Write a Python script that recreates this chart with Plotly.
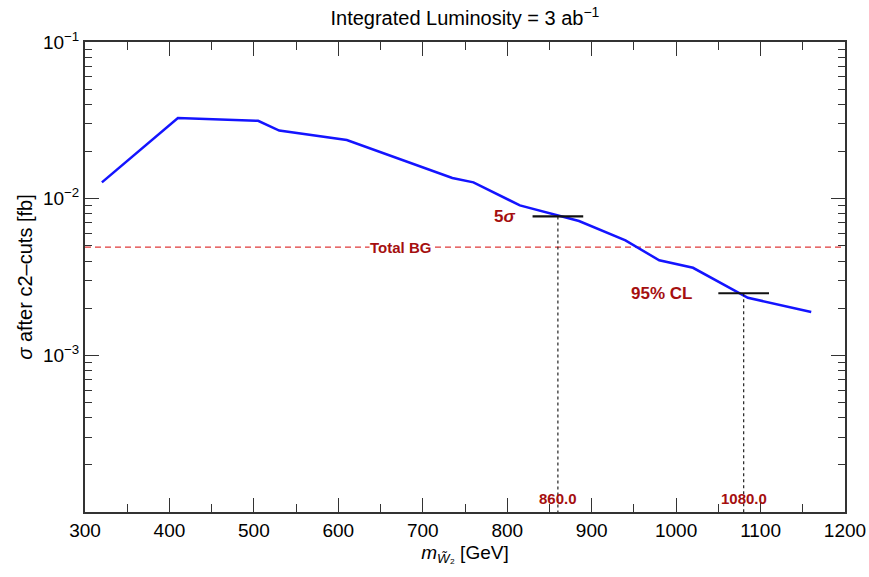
import math
import plotly.graph_objects as go

# ---- data ----
mass = [320, 410, 505, 530, 610, 735, 760, 815, 885, 940, 980, 1020, 1085, 1160]
xsec = [0.0127, 0.0327, 0.0314, 0.0272, 0.0237, 0.01355, 0.0127, 0.00906, 0.0072,
        0.00542, 0.00404, 0.00362, 0.00233, 0.00189]
bg_xsec = 0.0049
reach_mass = [860.0, 1080.0]
reach_xsec = [0.0077, 0.00249]
reach_names = ["5<i>σ</i>", "95% CL"]
bar_halfwidth = 30
y_tickvals = [1e-3, 1e-2, 1e-1]
y_ticktext = ["10<sup>−3</sup>", "10<sup>−2</sup>", "10<sup>−1</sup>"]
x_range = [300, 1200]
y_min = 1e-4

label_gap = [18, 29]   # gap (GeV) between bar end and its label

dark_red = "#a50f0f"
FONT = "Liberation Sans, Arial, sans-serif"
fig = go.Figure()

# background line
fig.add_trace(go.Scatter(x=x_range, y=[bg_xsec, bg_xsec], mode="lines",
                         line=dict(color="#e03a3a", width=1.3, dash="6px,4px"),
                         hoverinfo="skip", showlegend=False))
# signal curve
fig.add_trace(go.Scatter(x=mass, y=xsec, mode="lines",
                         line=dict(color="#1414ff", width=2.5),
                         showlegend=False))
# reach markers
for m, s in zip(reach_mass, reach_xsec):
    fig.add_trace(go.Scatter(x=[m, m], y=[s, y_min], mode="lines",
                             line=dict(color="#222222", width=1.2, dash="dot"),
                             showlegend=False, hoverinfo="skip"))
    fig.add_trace(go.Scatter(x=[m - bar_halfwidth, m + bar_halfwidth], y=[s, s], mode="lines",
                             line=dict(color="#111111", width=2.2),
                             showlegend=False, hoverinfo="skip"))

annotations = []
annotations.append(dict(x=674, y=math.log10(bg_xsec), xref="x", yref="y", text="<b>Total BG</b>",
                        showarrow=False, font=dict(size=15, color=dark_red, family=FONT),
                        bgcolor="white", borderpad=0))
for m, s, name, g in zip(reach_mass, reach_xsec, reach_names, label_gap):
    annotations.append(dict(x=m - bar_halfwidth - g, y=math.log10(s), xref="x", yref="y",
                            text="<b>" + name + "</b>",
                            xanchor="right", showarrow=False,
                            font=dict(size=17, color=dark_red, family=FONT)))
    annotations.append(dict(x=m, y=0, xref="x", yref="paper", yshift=3, yanchor="bottom",
                            text="<b>%.1f</b>" % m, showarrow=False,
                            font=dict(size=15, color=dark_red, family=FONT)))

axis_font = dict(family=FONT, size=19, color="black")
fig.update_layout(
    width=869, height=577,
    margin=dict(l=85, r=24, t=42, b=65, autoexpand=False),
    paper_bgcolor="white", plot_bgcolor="white",
    title=dict(text="Integrated Luminosity = 3 ab<sup>−1</sup>", x=0.535, xanchor="center",
               y=0.968, yanchor="middle",
               font=dict(family=FONT, size=20, color="black")),
    annotations=annotations,
    xaxis=dict(range=x_range, dtick=100, tick0=300, ticks="inside", ticklen=14, tickwidth=1.2,
               tickcolor="#333", showline=True, linecolor="#333", linewidth=2, mirror="allticks",
               showgrid=False, zeroline=False, tickfont=axis_font, automargin=False,
               minor=dict(ticks="inside", ticklen=8, dtick=50, tick0=350, tickcolor="#333", tickwidth=1.2, showgrid=False),
               title=dict(text="<i>m</i><sub><i>W̃</i>₂</sub> [GeV]", standoff=6,
                          font=dict(family=FONT, size=19, color="black"))),
    yaxis=dict(type="log", range=[-4, -1], tickvals=y_tickvals, ticktext=y_ticktext,
               ticks="inside", ticklen=14, tickwidth=1.2, tickcolor="#333",
               showline=True, linecolor="#333", linewidth=2, mirror="allticks",
               showgrid=False, zeroline=False, tickfont=axis_font, automargin=False,
               minor=dict(ticks="inside", ticklen=7, tickcolor="#333", tickwidth=1.2, showgrid=False,
                          tickvals=[k * 10 ** e for e in (-4, -3, -2) for k in range(2, 10)]),
               title=dict(text="<i>σ</i> after c2–cuts [fb]", standoff=5,
                          font=dict(family=FONT, size=20, color="black"))),
)

fig.write_html("out.html")
